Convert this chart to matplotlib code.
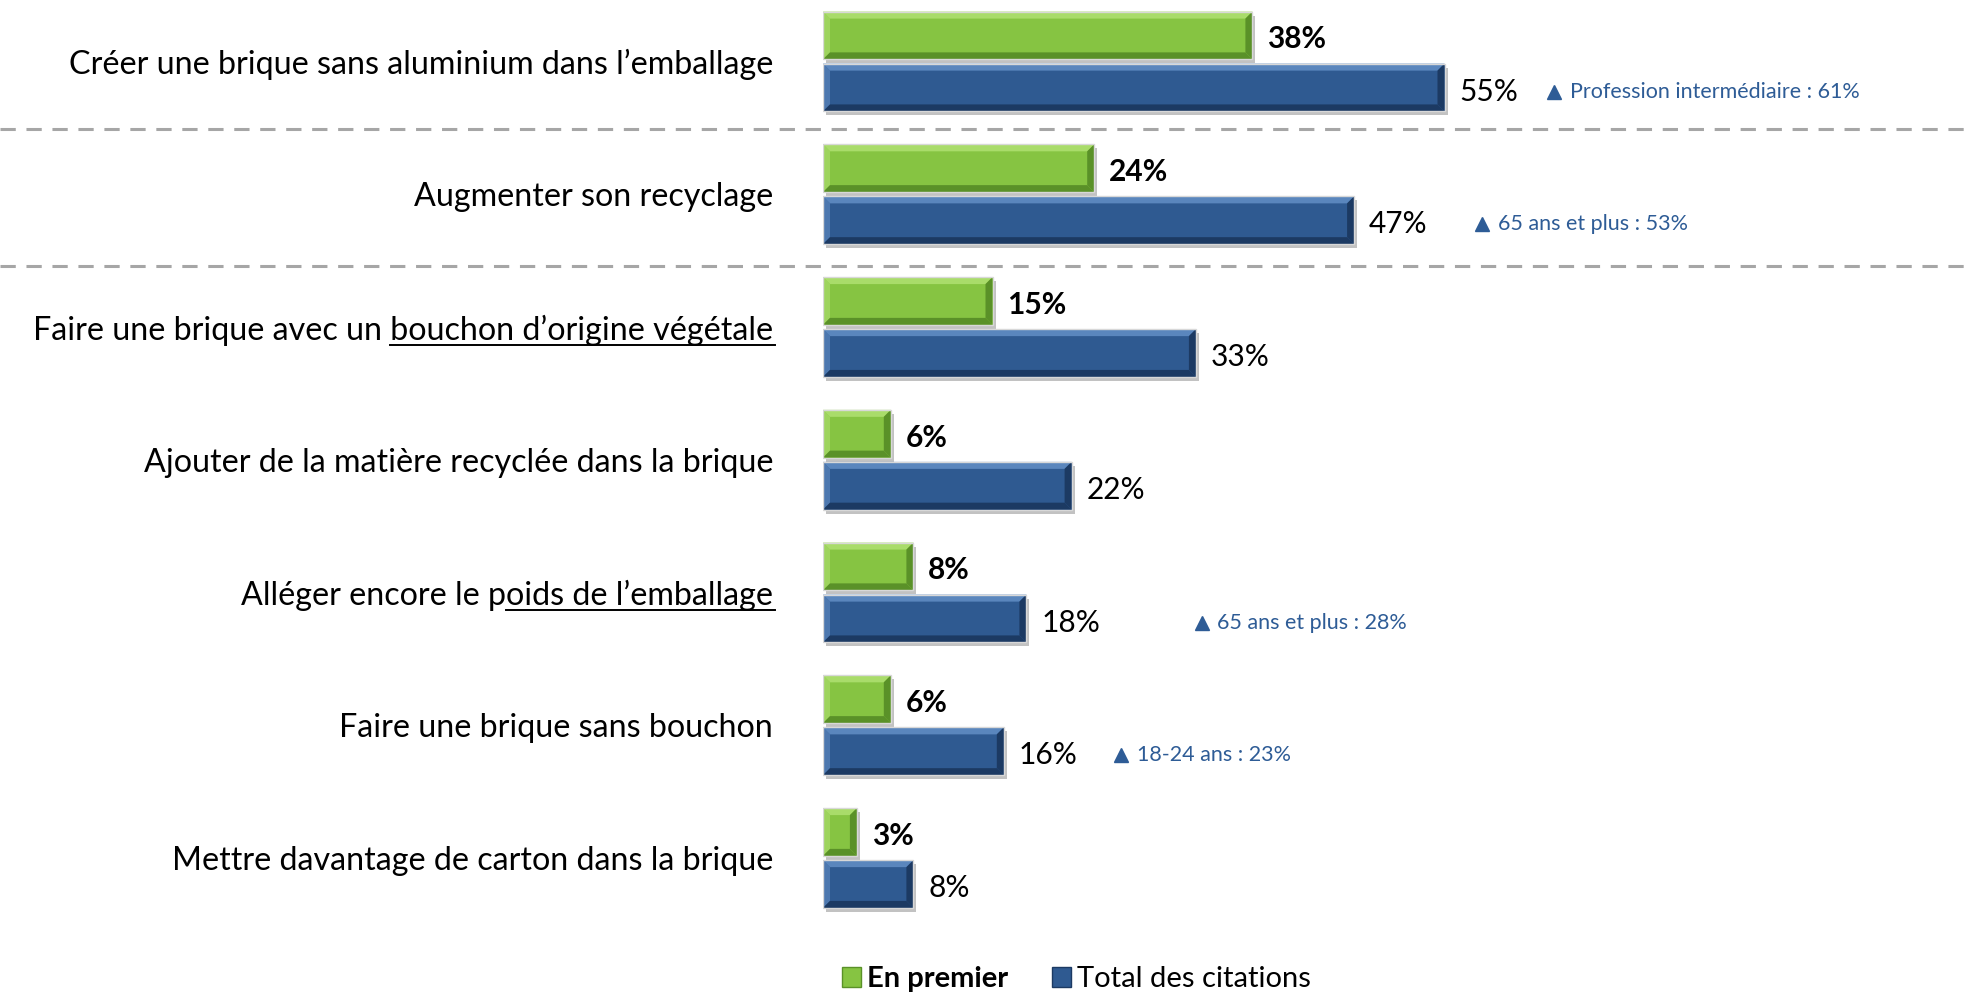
import matplotlib
matplotlib.use("Agg")
import matplotlib.pyplot as plt
import matplotlib.transforms as mtransforms
from matplotlib.patches import Polygon, Rectangle
import numpy as np

plt.rcParams['font.family'] = ['Lato', 'DejaVu Sans']

categories = [
    "Créer une brique sans aluminium dans l’emballage",
    "Augmenter son recyclage",
    "Faire une brique avec un bouchon d’origine végétale",
    "Ajouter de la matière recyclée dans la brique",
    "Alléger encore le poids de l’emballage",
    "Faire une brique sans bouchon",
    "Mettre davantage de carton dans la brique",
]
underlined = {2: "bouchon d’origine végétale", 4: "oids de l’emballage"}
en_premier = [38, 24, 15, 6, 8, 6, 3]
total_citations = [55, 47, 33, 22, 18, 16, 8]
series_names = ["En premier", "Total des citations"]
# notes next to some bars: row -> text
notes = {0: "Profession intermédiaire : 61%", 1: "65 ans et plus : 53%",
         4: "65 ans et plus : 28%", 5: "18-24 ans : 23%"}
note_x = {0: 64.7, 1: 58.3, 4: 33.5, 5: 26.4}

GREEN = "#86c442"
GREEN_L = "#a9dc6a"
GREEN_D = "#5a9128"
BLUE = "#2f5a91"
BLUE_L = "#5a86bd"
BLUE_D = "#1c3a63"
NOTE = "#2e5c96"

W, H = 1968, 998
fig = plt.figure(figsize=(W / 100, H / 100), dpi=100)
ax_left = 823 / W
ax = fig.add_axes([ax_left, 0, 1 - ax_left, 1])
px_per_pct = 11.3
ax.set_xlim(0, (W - 823) / px_per_pct)
row = 132.75
ax.set_ylim((H - 61.5) / row, -61.5 / row)

y = np.arange(len(categories))
off = 0.196
h = 0.36
g_bars = ax.barh(y - off, en_premier, height=h, color=GREEN, zorder=3)
b_bars = ax.barh(y + off, total_citations, height=h, color=BLUE, zorder=3)


def bevel(bar, light, dark):
    x0, yb = bar.get_x(), bar.get_y()
    w, hh = bar.get_width(), bar.get_height()
    bx = 7 / px_per_pct
    by = 7 / row
    bx = min(bx, w / 3)
    # shadow
    ax.add_patch(Rectangle((x0 + 3 / px_per_pct, yb + 4 / row), w, hh,
                           color="#9a9a9a", alpha=0.6, zorder=2, lw=0))
    x1, y1 = x0 + w, yb + hh
    # y axis inverted: yb is top visually
    top = [(x0, yb), (x1, yb), (x1 - bx, yb + by), (x0 + bx, yb + by)]
    bot = [(x0, y1), (x1, y1), (x1 - bx, y1 - by), (x0 + bx, y1 - by)]
    lft = [(x0, yb), (x0 + bx, yb + by), (x0 + bx, y1 - by), (x0, y1)]
    rgt = [(x1, yb), (x1 - bx, yb + by), (x1 - bx, y1 - by), (x1, y1)]
    ax.add_patch(Polygon(top, color=light, lw=0, zorder=4))
    ax.add_patch(Polygon(lft, color=light, lw=0, zorder=4, alpha=0.7))
    ax.add_patch(Polygon(bot, color=dark, lw=0, zorder=4))
    ax.add_patch(Polygon(rgt, color=dark, lw=0, zorder=4))
    ax.add_patch(Rectangle((x0, yb), w, hh, fill=False, ec="#d8d8d8",
                           lw=1.0, zorder=5))


for b in g_bars:
    bevel(b, GREEN_L, GREEN_D)
for b in b_bars:
    bevel(b, BLUE_L, BLUE_D)

gap = 1.3
dy = 0.03
for i in range(len(categories)):
    ax.text(en_premier[i] + gap, y[i] - off + dy, f"{en_premier[i]}%",
            va="center", ha="left", fontsize=21.5, fontweight="bold",
            color="black")
    ax.text(total_citations[i] + gap, y[i] + off + dy, f"{total_citations[i]}%",
            va="center", ha="left", fontsize=21.5, color="black")

for i, txt in notes.items():
    ax.plot(note_x[i], y[i] + off + 0.03, marker="^", color=NOTE, ms=10,
            ls="none", zorder=6)
    ax.text(note_x[i] + 1.4, y[i] + off + 0.03, txt, va="center", ha="left",
            fontsize=15.5, color=NOTE)

ax.set_yticks(y)
ax.set_yticklabels(categories, fontsize=23.2)
ax.tick_params(axis="y", length=0, pad=36)
ax.set_xticks([])
for s in ax.spines.values():
    s.set_visible(False)

# dashed separators across the full width
tr = mtransforms.blended_transform_factory(fig.transFigure, ax.transData)
for ys in [0.51, 1.54]:
    ax.plot([0, 1], [ys, ys], transform=tr, color="#a6a6a6", lw=2.2,
            ls=(0, (5, 3.5)), clip_on=False, zorder=1)

# legend
hg = Rectangle((0, 0), 1, 1, fc=GREEN, ec="#5a9128")
hb = Rectangle((0, 0), 1, 1, fc=BLUE, ec="#1c3a63")
leg = fig.legend([hg, hb], series_names, loc="center",
                 bbox_to_anchor=(0.547, 0.019), ncol=2, frameon=False,
                 fontsize=21, handlelength=0.65, handleheight=0.65,
                 handletextpad=0.2, columnspacing=1.5)
leg.get_texts()[0].set_fontweight("bold")

# underline parts of some labels
fig.canvas.draw()
renderer = fig.canvas.get_renderer()
labels = ax.get_yticklabels()
for i, part in underlined.items():
    lab = labels[i]
    bb = lab.get_window_extent(renderer)
    tmp = fig.text(0, 0, part, fontsize=lab.get_fontsize())
    pw = tmp.get_window_extent(renderer).width
    tmp.remove()
    yline = (bb.y0 + 1) / H
    fig.add_artist(plt.Line2D([(bb.x1 - pw) / W, (bb.x1 + 2) / W],
                              [yline, yline], color="black", lw=1.4))

fig.savefig("out.png", dpi=100)
